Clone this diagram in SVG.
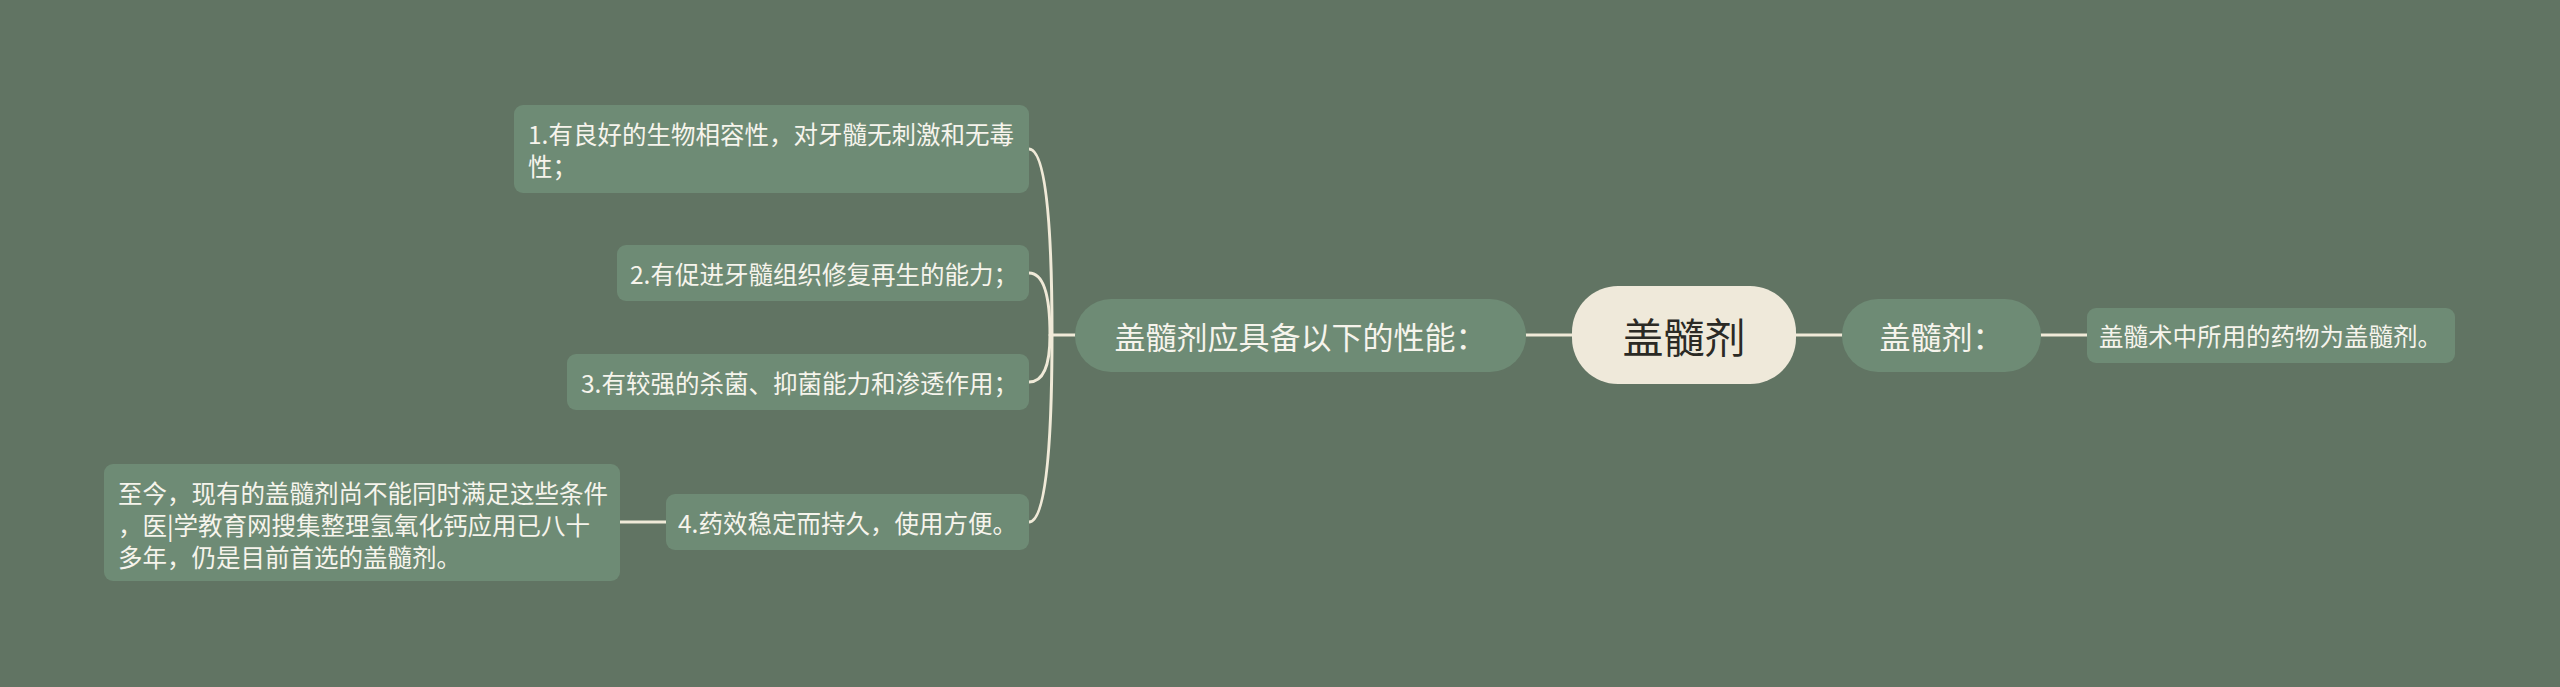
<svg xmlns="http://www.w3.org/2000/svg" width="2560" height="687" viewBox="0 0 2560 687">
<style>
.bg{fill:#617463}
.node{fill:#6e8b75}
.root{fill:#efe9da}
.t{font-family:"Noto Sans CJK SC","Noto Sans",sans-serif;fill:#f6f4ec;dominant-baseline:central}
.leaf{font-size:24.5px}
.br{font-size:31px;text-anchor:middle}
.rt{font-size:41px;text-anchor:middle;fill:#2b2a25}
.c{fill:none;stroke:#f0ead8;stroke-width:3;stroke-linecap:round}
</style>
<rect class="bg" x="0" y="0" width="2560" height="687"/>
<g id="connectors">
<path class="c" d="M1572 335 H1526"/>
<path class="c" d="M1796 335 H1842"/>
<path class="c" d="M2041 335 H2087"/>
<path class="c" d="M1075 335 H1052"/>
<path class="c" d="M1029 149 Q1052 149 1052 335"/>
<path class="c" d="M1029 273 Q1050 273 1050 335"/>
<path class="c" d="M1029 382 Q1050 382 1050 335"/>
<path class="c" d="M1029 522 Q1052 522 1052 335"/>
<path class="c" d="M666 522 H620"/>
</g>
<g id="root">
<rect class="root" x="1572" y="286" width="224" height="98" rx="46"/>
<text class="t rt" x="1684" y="335">盖髓剂</text>
</g>
<g id="branch-left">
<rect class="node" x="1075" y="299" width="451" height="73" rx="36"/>
<text class="t br" x="1300.5" y="335">盖髓剂应具备以下的性能：</text>
</g>
<g id="branch-right">
<rect class="node" x="1842" y="299" width="199" height="73" rx="36"/>
<text class="t br" x="1941.5" y="335">盖髓剂：</text>
</g>
<g id="leaf-right">
<rect class="node" x="2087" y="308" width="368" height="55" rx="9"/>
<text class="t leaf" x="2099" y="335.5">盖髓术中所用的药物为盖髓剂。</text>
</g>
<g id="leaf-1">
<rect class="node" x="514" y="105" width="515" height="88" rx="9"/>
<text class="t leaf" x="528" y="133">1.有良好的生物相容性，对牙髓无刺激和无毒</text>
<text class="t leaf" x="528" y="165">性；</text>
</g>
<g id="leaf-2">
<rect class="node" x="617" y="245" width="412" height="56" rx="9"/>
<text class="t leaf" x="630" y="273">2.有促进牙髓组织修复再生的能力；</text>
</g>
<g id="leaf-3">
<rect class="node" x="567" y="354" width="462" height="56" rx="9"/>
<text class="t leaf" x="581" y="382">3.有较强的杀菌、抑菌能力和渗透作用；</text>
</g>
<g id="leaf-4">
<rect class="node" x="666" y="494" width="363" height="56" rx="9"/>
<text class="t leaf" x="678" y="522">4.药效稳定而持久，使用方便。</text>
</g>
<g id="leaf-5">
<rect class="node" x="104" y="464" width="516" height="117" rx="9"/>
<text class="t leaf" x="118" y="492">至今，现有的盖髓剂尚不能同时满足这些条件</text>
<text class="t leaf" x="118" y="524">，医|学教育网搜集整理氢氧化钙应用已八十</text>
<text class="t leaf" x="118" y="556">多年，仍是目前首选的盖髓剂。</text>
</g>
</svg>
